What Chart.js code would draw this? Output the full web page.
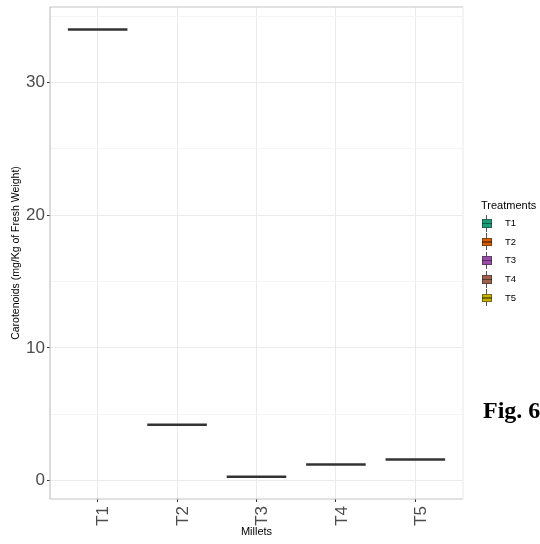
<!DOCTYPE html>
<html><head><meta charset="utf-8">
<script src="https://cdn.jsdelivr.net/npm/chart.js@4/dist/chart.umd.min.js"></script>
<style>
html,body{margin:0;padding:0;background:#fff;}
#wrap{position:relative;width:540px;height:544px;overflow:hidden;}
#c{position:absolute;left:0;top:0;}
.txt{position:absolute;font-family:"Liberation Sans",Arial,sans-serif;color:#000;white-space:nowrap;}
.key{position:absolute;width:17px;height:17px;}
.key .wh{position:absolute;left:8px;top:0;width:1px;height:17px;background:#555;}
.key .bx{position:absolute;left:3.5px;top:4.5px;width:10px;height:8.5px;box-sizing:border-box;border:1px solid rgba(40,40,40,0.5);}
.key .md{position:absolute;left:3.5px;top:8px;width:10px;height:1.4px;background:rgba(0,0,0,0.4);}
#fig{position:absolute;left:483px;top:398px;font-family:"Liberation Serif","Times New Roman",serif;font-weight:bold;font-size:24px;line-height:24px;color:#000;white-space:nowrap;}
</style></head><body>
<div id="wrap">
<canvas id="c" width="540" height="544"></canvas>
<div id="legend"></div>
<div id="fig">Fig. 6</div>
</div>
<script>
// ---- data ----
const categories = ['T1', 'T2', 'T3', 'T4', 'T5'];
const medians = [34.0, 4.2, 0.28, 1.2, 1.58];
const fillColors = ['#1B9E77', '#D95F02', '#9A4CA8', '#A0604C', '#C4B100'];
const yTickValues = [0, 5, 10, 15, 20, 25, 30, 35];
const yLabelValues = [0, 10, 20, 30];
const xTitle = 'Millets';
const yTitle = 'Carotenoids (mg/Kg of Fresh Weight)';
const legendTitle = 'Treatments';

const BOX_WIDTH = 0.75;
function halfBox(chart) {
  const xs = chart.scales && chart.scales.x;
  if (!xs) return 30;
  return Math.abs(xs.getPixelForValue(1 + BOX_WIDTH / 2) - xs.getPixelForValue(1));
}

const panelBorder = {
  id: 'panelBorder',
  afterDatasetsDraw(chart) {
    const {ctx, chartArea: a} = chart;
    ctx.save();
    ctx.lineWidth = 1.2;
    ctx.strokeStyle = '#C4C4C4';
    ctx.beginPath();
    ctx.moveTo(a.right, a.top); ctx.lineTo(a.left, a.top);
    ctx.lineTo(a.left, a.bottom); ctx.lineTo(a.right, a.bottom);
    ctx.stroke();
    ctx.strokeStyle = '#EDEDED';
    ctx.beginPath();
    ctx.moveTo(a.right, a.top); ctx.lineTo(a.right, a.bottom);
    ctx.stroke();
    ctx.restore();
  }
};

const datasets = categories.map((c, i) => ({
  label: c,
  data: [{x: i + 1, y: medians[i]}],
  backgroundColor: fillColors[i],
  borderColor: '#333333',
  pointStyle: 'line',
  pointBorderWidth: 2.5,
  pointHoverBorderWidth: 2.5,
  pointRadius: (ctx) => halfBox(ctx.chart),
  pointHoverRadius: (ctx) => halfBox(ctx.chart)
}));

const chart = new Chart(document.getElementById('c'), {
  type: 'scatter',
  data: {datasets},
  options: {
    responsive: false,
    animation: false,
    devicePixelRatio: 1,
    events: [],
    layout: {padding: {top: 7, right: 77, bottom: 0, left: 0}},
    plugins: {legend: {display: false}, tooltip: {enabled: false}},
    scales: {
      x: {
        type: 'linear',
        min: 0.4, max: 5.6,
        afterBuildTicks: (s) => { s.ticks = categories.map((c, i) => ({value: i + 1})); },
        afterFit: (s) => { s.height = 45; s.paddingLeft = 0; s.paddingRight = 0; },
        ticks: {
          callback: (v) => categories[Math.round(v) - 1] ?? '',
          autoSkip: false,
          minRotation: 90, maxRotation: 90,
          font: {family: 'Liberation Sans', size: 17},
          color: '#4D4D4D',
          padding: 4,
          labelOffset: 6
        },
        grid: {color: '#EBEBEB', lineWidth: 1, tickLength: 3, tickColor: '#333333', drawTicks: true},
        border: {display: false},
        title: {display: true, text: xTitle, color: '#000', font: {family: 'Liberation Sans', size: 11}, padding: {top: 0, bottom: 5}}
      },
      y: {
        type: 'linear',
        min: -1.4, max: 35.7,
        afterBuildTicks: (s) => { s.ticks = yTickValues.map(v => ({value: v})); },
        afterFit: (s) => { s.width = 50; s.paddingTop = 0; s.paddingBottom = 0; },
        ticks: {
          callback: (v) => yLabelValues.includes(v) ? String(v) : '',
          font: {family: 'Liberation Sans', size: 17},
          color: '#4D4D4D',
          padding: 2
        },
        grid: {
          color: (ctx) => (ctx.tick && yLabelValues.includes(ctx.tick.value)) ? '#EBEBEB' : '#F5F5F5',
          lineWidth: 1,
          tickLength: 3,
          tickColor: (ctx) => (ctx.tick && yLabelValues.includes(ctx.tick.value)) ? '#333333' : 'rgba(0,0,0,0)'
        },
        border: {display: false},
        title: {display: true, text: yTitle, color: '#000', font: {family: 'Liberation Sans', size: 10.5}, padding: {top: 10, bottom: 0}}
      }
    }
  },
  plugins: [panelBorder]
});

// ---- HTML legend built from the datasets ----
(function buildLegend() {
  const host = document.getElementById('legend');
  const t = document.createElement('div');
  t.className = 'txt';
  t.style.cssText = 'left:481px;top:198px;font-size:11px;line-height:14px;';
  t.textContent = legendTitle;
  host.appendChild(t);
  chart.data.datasets.forEach((ds, i) => {
    const cy = 223 + i * 18.7;
    const k = document.createElement('div');
    k.className = 'key';
    k.style.left = '478px';
    k.style.top = (cy - 8.5) + 'px';
    k.innerHTML = '<div class="wh"></div><div class="bx" style="background:' + ds.backgroundColor + '"></div><div class="md"></div>';
    host.appendChild(k);
    const l = document.createElement('div');
    l.className = 'txt';
    l.style.cssText = 'left:505px;font-size:9.5px;line-height:12px;top:' + (cy - 6) + 'px;';
    l.textContent = ds.label;
    host.appendChild(l);
  });
})();
</script>
</body></html>
